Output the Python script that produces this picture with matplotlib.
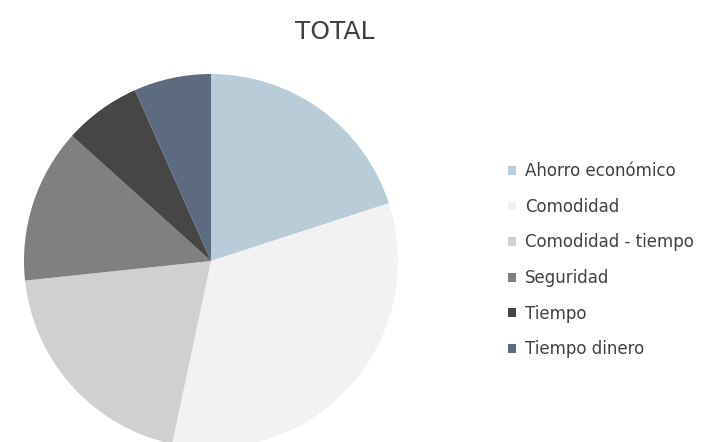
import matplotlib.pyplot as plt

# respuestas por motivo (15 encuestados)
labels = ['Ahorro económico', 'Comodidad', 'Comodidad - tiempo',
          'Seguridad', 'Tiempo', 'Tiempo dinero']
counts = [3, 5, 3, 2, 1, 1]
colors = ['#b9cdd8', '#f2f2f2', '#d0d0d0', '#808080', '#464646', '#5c6b80']

plt.rcParams['font.family'] = ['DejaVu Sans']

fig = plt.figure(figsize=(7.15, 4.42), dpi=100)
ax = fig.add_axes([0, 0, 1, 1])

wedges, _ = ax.pie(counts, colors=colors, startangle=90, counterclock=False,
                   center=(211, 181), radius=187, frame=True,
                   wedgeprops=dict(linewidth=0))
ax.set_xlim(0, 715)
ax.set_ylim(0, 442)
ax.set_aspect('equal')
ax.axis('off')

fig.text(335 / 715, 1 - 32 / 442, 'TOTAL', ha='center', va='center',
         fontsize=18, color='#404040')

leg = fig.legend(wedges, labels, loc='upper left',
                 bbox_to_anchor=(493 / 715, 1 - 147 / 442),
                 frameon=False, fontsize=12, labelcolor='#404040',
                 handlelength=0.45, handleheight=0.45, handletextpad=0.55,
                 labelspacing=1.06)

fig.savefig('out.png', dpi=100)
